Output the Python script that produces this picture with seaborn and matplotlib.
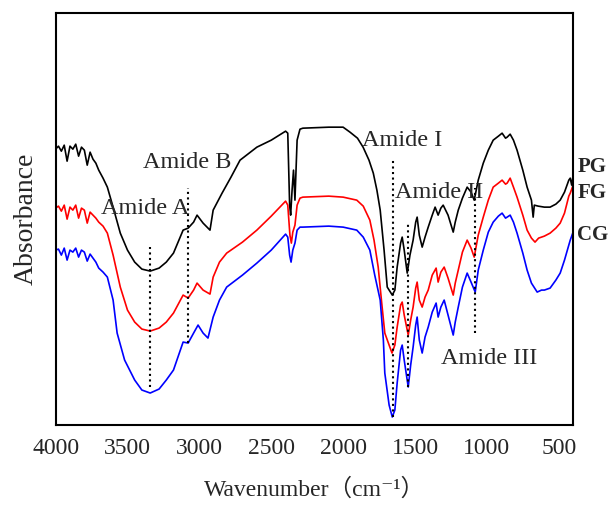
import pandas as pd
import seaborn as sns
import matplotlib.pyplot as plt

# wavenumbers (cm-1) and absorbance (a.u., curves already offset)
noise_wn = [4000, 3980, 3960, 3940, 3920, 3900, 3880, 3860, 3840, 3820, 3800, 3780, 3760, 3740, 3720, 3700]

pg_wn = noise_wn + [3670, 3640, 3600, 3550, 3500, 3450, 3400, 3342,
                    3280, 3230, 3180, 3113, 3078, 3040, 3016, 2974, 2926, 2904,
                    2842, 2780, 2717, 2600, 2500, 2400, 2385, 2372, 2365, 2355,
                    2345, 2335, 2320, 2300, 2280, 2100, 2000, 1952, 1900, 1861,
                    1820, 1790, 1765, 1742, 1715, 1693, 1658, 1640, 1624, 1600,
                    1589, 1575, 1554, 1535, 1513, 1495, 1485, 1470, 1450, 1430,
                    1408, 1380, 1360, 1339, 1320, 1304, 1270, 1234, 1220, 1199,
                    1170, 1137, 1110, 1088, 1060, 1025, 990, 956, 920, 894,
                    870, 859, 838, 815, 790, 750, 720, 690, 678, 670,
                    643, 600, 560, 520, 490, 460, 430, 420, 410, 400]
pg_abs = [276, 279, 274, 280, 264, 279, 276, 281, 269, 278, 275, 260, 273, 266, 262, 255,
          247, 238, 218, 192, 175, 163, 156, 154,
          157, 163, 172, 195, 197, 203, 210, 202, 195, 215,
          232, 248, 265, 278, 285, 294, 292, 220, 210, 235,
          255, 225, 285, 296, 297, 298, 298, 293, 287, 278,
          265, 252, 235, 215, 175, 138, 130, 135, 158, 182,
          188, 175, 152, 170, 185, 203, 208, 190, 178, 188,
          198, 210, 218, 210, 217, 220, 210, 193, 203, 215,
          227, 238, 233, 225, 245, 262, 275, 285, 289, 292,
          287, 288, 291, 285, 275, 255, 238, 225, 208, 220,
          219, 218, 218, 221, 225, 233, 245, 247, 240, 250]

fg_wn = noise_wn + [3670, 3640, 3600, 3550, 3500, 3450, 3400, 3342,
                    3280, 3230, 3180, 3113, 3078, 3040, 3016, 2974, 2926, 2904,
                    2860, 2810, 2700, 2600, 2500, 2400, 2385, 2370, 2360, 2350,
                    2335, 2320, 2300, 2280, 2100, 2000, 1905, 1860, 1814, 1785,
                    1756, 1730, 1710, 1660, 1640, 1624, 1600, 1589, 1575, 1547,
                    1530, 1513, 1495, 1485, 1470, 1450, 1430, 1408, 1380, 1353,
                    1339, 1320, 1297, 1270, 1234, 1220, 1199, 1170, 1137, 1110,
                    1088, 1060, 1025, 990, 956, 920, 894, 870, 859, 838,
                    815, 790, 750, 720, 690, 665, 640, 600, 560, 520,
                    490, 460, 430, 420, 400]
fg_abs = [217, 219, 214, 220, 206, 218, 215, 220, 207, 217, 215, 202, 213, 210, 207, 203,
          199, 192, 170, 138, 115, 103, 96, 94,
          97, 103, 112, 130, 127, 135, 142, 135, 131, 148,
          163, 172, 183, 195, 209, 224, 220, 190, 182, 193,
          200, 220, 227, 228, 229, 228, 225, 219, 205, 185,
          158, 120, 92, 72, 80, 98, 120, 123, 110, 90,
          105, 118, 137, 143, 125, 118, 128, 135, 150, 157,
          143, 153, 158, 147, 130, 142, 155, 173, 185, 177,
          168, 190, 208, 225, 238, 242, 245, 241, 242, 247,
          238, 228, 210, 195, 187, 183, 187, 189, 192, 197,
          202, 212, 229, 232, 240]

cg_wn = noise_wn + [3670, 3640, 3600, 3572, 3520, 3450, 3400, 3342,
                    3280, 3230, 3180, 3113, 3078, 3040, 3009, 2974, 2940, 2904,
                    2860, 2810, 2700, 2600, 2500, 2400, 2385, 2372, 2362, 2350,
                    2335, 2320, 2300, 2280, 2100, 2000, 1905, 1860, 1814, 1780,
                    1742, 1720, 1710, 1680, 1658, 1640, 1624, 1600, 1589, 1575,
                    1547, 1530, 1513, 1495, 1485, 1470, 1450, 1430, 1408, 1380,
                    1353, 1339, 1320, 1297, 1270, 1234, 1220, 1199, 1170, 1137,
                    1110, 1081, 1060, 1025, 990, 956, 920, 894, 870, 859,
                    838, 815, 790, 750, 720, 690, 650, 620, 600, 560,
                    520, 490, 460, 430, 420, 400]
cg_abs = [175, 176, 170, 177, 165, 175, 173, 177, 168, 175, 173, 164, 171, 167, 163, 157,
          153, 148, 125, 92, 65, 45, 35, 32,
          36, 45, 55, 83, 82, 92, 100, 92, 87, 108,
          125, 138, 150, 162, 175, 191, 188, 170, 163, 175,
          182, 195, 198, 198, 199, 198, 195, 188, 175, 150,
          125, 85, 52, 20, 8, 15, 42, 75, 80, 65,
          38, 60, 78, 100, 108, 85, 72, 88, 98, 113,
          122, 108, 118, 125, 110, 90, 103, 118, 138, 152,
          143, 133, 155, 175, 193, 203, 209, 212, 207, 208,
          210, 203, 192, 172, 155, 142, 133, 135, 135, 137,
          145, 152, 165, 180, 185, 193]

samples = ['PG', 'FG', 'CG']
sample_y = [258, 232, 190]

# band assignments: label, wavenumber of dotted line, line span, label position
bands = ['Amide A', 'Amide B', 'Amide I', 'Amide II', 'Amide III']
band_wn = [3342, 3078, 1652, 1550, 1081]
band_lo = [38, 82, 8, 38, 92]
band_hi = [178, 237, 267, 203, 237]
label_wn = [3378, 3086, 1590, 1333, 985]
label_y = [217, 263, 285, 233, 67]

df = pd.concat([
    pd.DataFrame({'Wavenumber': pg_wn, 'Absorbance': pg_abs, 'Sample': 'PG'}),
    pd.DataFrame({'Wavenumber': fg_wn, 'Absorbance': fg_abs, 'Sample': 'FG'}),
    pd.DataFrame({'Wavenumber': cg_wn, 'Absorbance': cg_abs, 'Sample': 'CG'}),
])

sns.set_theme(style='white')
plt.rcParams['font.family'] = ['Liberation Serif', 'DejaVu Serif', 'Noto Sans CJK SC']

fig = plt.figure(figsize=(6.11, 5.09), dpi=100)
ax = fig.add_axes([0.091, 0.165, 0.847, 0.809])

sns.lineplot(data=df, x='Wavenumber', y='Absorbance', hue='Sample', estimator=None,
             palette={'PG': 'black', 'FG': '#ff0000', 'CG': '#0000ff'},
             linewidth=1.2, legend=False, ax=ax)

ax.vlines(band_wn, band_lo, band_hi, colors='black', linestyles=':', linewidth=1.5)
for name, x, y in zip(bands, label_wn, label_y):
    ax.text(x, y, name, ha='center', va='center', fontsize=17.5)

for name, y in zip(samples, sample_y):
    ax.text(1.008, y, name, transform=ax.get_yaxis_transform(), ha='left', va='center',
            fontsize=15, fontweight='bold', clip_on=False)

ax.set_xlim(4000, 400)
ax.set_ylim(0, 412)
ax.set_xticks([4000, 3500, 3000, 2500, 2000, 1500, 1000, 500])
ax.set_yticks([])
ax.tick_params(axis='x', length=0, pad=9, labelsize=17)
for s in ax.spines.values():
    s.set_color('black')
    s.set_linewidth(1.5)

ax.set_xlabel('Wavenumber（cm⁻¹）', fontsize=17, labelpad=14)
ax.set_ylabel('Absorbance', fontsize=20, labelpad=12)

plt.savefig('out.png', dpi=100)
